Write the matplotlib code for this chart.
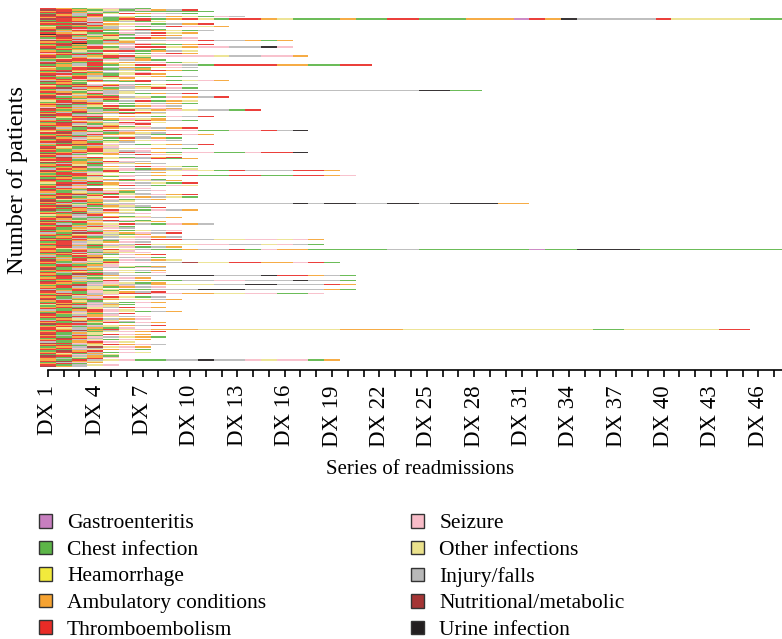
import matplotlib
matplotlib.use("Agg")
import matplotlib.pyplot as plt
from matplotlib.patches import Patch

plt.rcParams['font.family'] = ['Liberation Serif', 'DejaVu Serif']

# diagnosis categories (code letter, label, colour)
codes = ['G', 'C', 'H', 'A', 'T', 'S', 'O', 'I', 'N', 'U']
labels = ['Gastroenteritis', 'Chest infection', 'Heamorrhage', 'Ambulatory conditions',
          'Thromboembolism', 'Seizure', 'Other infections', 'Injury/falls',
          'Nutritional/metabolic', 'Urine infection']
colors = ['#c87fc0', '#5cb547', '#f2ea3c', '#f6a332', '#e92b26',
          '#f8bcc8', '#ebe28c', '#b8b8b8', '#a53535', '#231f20']

# one string per patient, one letter per readmission (DX 1, DX 2, ...)
rows = [
    "TACOSIC", "NTACOCSAIT", "ATCOIICCCCC", "TNASC", "CTICOTASIC", "NAIT", "TTCAIOCIAOCSI", "ANTSCA",
    "NTAICTTCATOCT" + "TAOCCCACCTTCCCAAAGTAUIIIIITOOOOOCC", "CTAICOT",
    "NTTSAICO", "ACIT", "TTNIAOSCIAT", "CCATO", "OTCAISCITSOA", "ANTCI", "TCSIAOTC", "NATTCSIAOCI", "CIAT", "TAOCCSITOA",
    "UTTIAC", "ANCOTISTA", "TNACO", "CTIAOCTAIS", "SATOC", "NTICTOIISSTIIACA", "ACTCIA", "TTUCAISO", "CNAIOSTCCAT", "ATCS",
    "TCATCSTTOASSIIUS", "NACTOI", "CTAOOISC", "ACOCTTCAIO", "TNII", "SACTOICSTA", "ATTCO", "TCIATTOSSSSOIISSA", "NCAOTIC", "AOTICSA",
    "CTTTSIAC", "INAC", "TACTOAISCO", "NCITA", "CAITCOTTSICTTTTAACCTT", "TAOC", "OCTTIACOSI", "ACTNCIA", "TTASIOCTAC", "CNOA",
    "AITCIOS", "TTCACOTA", "NSAIC", "CATITSOACI", "TCTOOA", "ATSI", "IACTCATICOSA", "NTOAICT", "CAC", "TTNSAICOTI",
    "OCAITS", "ACTTSIAO", "TNIACIOTSC", "CITOA", "AIOC" + "IIIIIIIIIIIIIIIIIIII" + "UUCC", "TACSIO", "CNATIOCAIT", "ATOCS", "TSIAC", "NCATTIOCSAIT",
    "TTCIAOS", "ACSOT", "OTAICITCAO", "CTNA", "AITTSCOIAC", "TNCA", "ACIOTCASI", "STACO", "NAICTOISA", "TCAICTOASOIICT",
    "CATIS", "TINOACTI", "ATCCITAO", "NTIS", "CATTOAICSIT", "TOAC", "ICTNASOA", "ATSICOTAIC", "TCAO", "CNTAITSO",
    "ATICOST", "TTOSA", "CANITCO", "NICTAOSIAT", "TACO", "ACTOTIAASSCCSSTIU", "OTACIS", "TNISCAOI", "CAITAOICTSA", "ATCI",
    "TCTASOI", "NAIOCTIAC", "CTSA", "ATTICAOSI", "TNACOI", "ICAT", "ATNTSICOAIT", "CTAIO", "TOCAS", "NACTIOSAIC",
    "ACITO", "TCATOIS", "CATOSTIACSSCCSTTU", "NTICA", "ATCOAITSO", "TIS", "CNATOCIAT", "ATICOSITCA", "TTCA", "OCAITSI",
    "NTACOI", "CIATSOAI", "ATOC", "TCNIAITSOC", "CATS", "ITACOSCAIO", "TACCTSIIOSOCTIIITTA", "NCAIT", "ATISOCIA", "CTTO",
    "ACTTOSIAOTCCTTCCTTAS", "TNAICS", "CACO", "NTIOATSC", "TCASICOIA", "ACIT", "OTTCASIOCT", "CNITA", "ATACOTICSO", "TIS",
    "CTANOIS", "NACT", "TCITOAIS", "ACOISC", "ITACTOI", "CTNACOISAT", "TAIT", "ANCOTSAIOC", "CTAS", "TOIASCIA",
    "NCTAIO", "ATIC", "TICA" + "OIIIIIIIIIII" + "UIUUIIUUIIUUUAA", "CAOTIS", "TNICAOI", "ACTSOICT", "TTAC", "NCAITOCSIA", "CITOS", "ATCIAO",
    "TCNAOIS", "OAIT", "CTSIACO", "ANICTOSIA", "TACI", "CIOATSC", "NTTSICOA", "ACTO", "TICAOTICSAI", "CNAIS",
    "ATITOC", "TCAOSI", "NCOS", "CATIACOIS", "TAICS", "ICNTOASIT", "ATOSICA", "TCAIO", "CATCIOSAI", "NTIA",
    "ACTOISITTIIOOSSOSA", "TNAIC", "CTIOASI", "ATSO", "TTICSITOOOSSIIOSIC", "CNATIO", "ATICOSCIA", "TOSA",
    "TCAITOICCAIITCSA" + "ACCCCCIICCCCCCCGCCUUUUCCCCCCCCC", "ACTIOS",
    "TNICAOS", "CATSI", "ATOICSAT", "ICTA", "TACNOISC", "CITA", "NATOCSIAO", "TCSIA", "ACIOTSSIINOOTTAASTC", "TIACO",
    "CTCAS", "ANTISOCA", "TCAOICSI", "NCIA", "ATTCSOIA", "CAOS", "TIACIOCS", "ACNTI", "TNICAIIIUUUIIIUTTAIC", "CTAO",
    "ATICOSA", "TCOI", "CAIOTIACCIISSIIIUIIC", "NTACS", "TACISOCA", "ACTSOIIAOOOIIUUIIITA", "CTNIAS", "ATIOCAIS", "TCAO", "ICTAOCCIIIUUUIIIIIAC",
    "NATSC", "TICSOAIT", "ATCIOTTSSAAOOSSCCS", "CATIS", "TNOA", "ACISTOCI", "TCAIO", "NICTASOIA", "ATOC", "CTAIOCSA",
    "TACSI", "ONTIAC", "CAISO", "ATCOITSA", "TCNO", "ICATSO", "ATITSOCIA", "CTSA", "NAOCIT", "TCIAS",
    "ACTAOIS", "TNIS", "CAOTIAS", "ITACO", "TCNASI", "ACIOTCSA", "NTTC", "CAISOAIT", "ATCIO", "TOIACS",
    "TAICTOSA" + "AAOOOOOOOOOAAAAOOOOOOOOOOOO" + "CCOOOOOOTT", "CTNAI", "ATICOSAT", "TCAO", "NCIOTSA", "AITC", "TCASIOAC", "CNTI", "ATIOCSA", "TCAS",
    "ICATSO", "NTSA", "ACIOTASI", "TTCO", "CAINOSA", "ATSI", "TCIOASC", "CNAT", "ATTICSO", "TOCA",
    "CASIO", "NTIAC", "TCOAS", "AICT", "ACTIOSCCIIUIISOSSCA", "TNAO", "CISA", "ATC", "TCIOS", "NAI",
]

n_dx = 47
tick_labels = ['DX %d' % (k + 1) if k % 3 == 0 else '' for k in range(n_dx)]

cmap = dict(zip(codes, colors))

# run-length segments per patient
ys, lefts, widths, cols = [], [], [], []
for i, seq in enumerate(rows):
    j = 0
    while j < len(seq):
        k = j
        while k < len(seq) and seq[k] == seq[j]:
            k += 1
        ys.append(i)
        lefts.append(j)
        widths.append(k - j)
        cols.append(cmap[seq[j]])
        j = k

fig = plt.figure(figsize=(7.82, 6.39), dpi=100)
ax = fig.add_axes([40 / 782, 1 - 367 / 639, 742 / 782, 359 / 639])
ax.barh(ys, widths, left=lefts, height=1, color=cols, linewidth=0, alpha=0.9)
ax.set_xlim(0, n_dx)
ax.set_ylim(len(rows) - 0.5, -0.5)

for s in ['top', 'right', 'left']:
    ax.spines[s].set_visible(False)
ax.spines['bottom'].set_position(('outward', 2))
ax.spines['bottom'].set_bounds(0.5, n_dx)
ax.spines['bottom'].set_linewidth(1.2)
ax.set_yticks([])
ax.set_xticks([k + 0.5 for k in range(n_dx)])
ax.set_xticklabels(tick_labels, rotation=90, fontsize=16.5)
ax.tick_params(axis='x', length=5, width=1.2, pad=6)

fig.text(420 / 782, 1 - 469 / 639, 'Series of readmissions', ha='center', va='center', fontsize=15)
fig.text(18 / 782, 1 - 180 / 639, 'Number of patients', ha='center', va='center',
         rotation=90, fontsize=17.5)

handles = [Patch(facecolor=c, edgecolor='#333333', linewidth=1) for c in colors]
fig.legend(handles, labels, loc='upper left', bbox_to_anchor=(39 / 782, 1 - 514 / 639),
           ncol=2, frameon=False, fontsize=15.5, handlelength=0.6, handleheight=0.6,
           handletextpad=0.7, columnspacing=6.75, labelspacing=0.33, borderpad=0,
           borderaxespad=0)

fig.savefig('out.png', dpi=100)
